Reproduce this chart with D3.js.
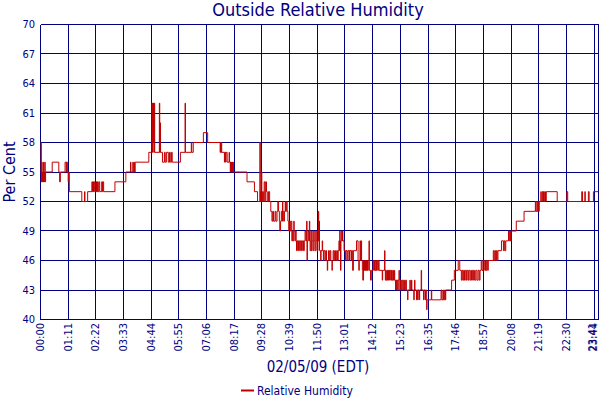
<!DOCTYPE html>
<html><head><meta charset="utf-8">
<script src="https://cdn.jsdelivr.net/npm/d3@7/dist/d3.min.js"></script>
<style>
html,body{margin:0;padding:0;background:#fff;}
svg{display:block;}
text{font-family:"DejaVu Sans Condensed","DejaVu Sans",sans-serif;fill:#000080;}
</style></head>
<body>
<svg id="chart" width="600" height="400"></svg>
<script>
// ---- data ----
const chartTitle = "Outside Relative Humidity";
const yAxisTitle = "Per Cent";
const xAxisTitle = "02/05/09 (EDT)";
const seriesName = "Relative Humidity";
const yTicks = [40,43,46,49,52,55,58,61,64,67,70];
const xTickLabels = ["00:00","01:11","02:22","03:33","04:44","05:55","07:06","08:17","09:28","10:39","11:50","13:01","14:12","15:23","16:35","17:46","18:57","20:08","21:19","22:30","23:41","23:44"];
const dayEndMinute = 1432; // last reading, right edge of the chart
// [minutes after midnight, relative humidity %]
const humidityReadings = [
[0,55],[1,58],[2,54],[3,56],[4,54],[5,55],[6,54],[7,56],[8,54],[9,55],[10,54],[11,56],[12,54],[13,55],
[30,56],[47,55],[49,54],[51,55],
[63,56],[66,55],[67,56],[69,55],[71,54],[72,55],[74,53],
[106,52],[113,53],[114,52],[121,53],
[132,54],[133,53],[134,54],[136,53],[137,54],[139,53],[142,54],[143,53],[144,54],[145,53],[146,54],[148,53],[150,54],[152,53],[157,54],[159,53],[160,54],[162,53],
[191,54],[219,55],
[231,56],[232,55],[237,56],[238,55],[240,56],[241,55],[243,56],
[278,57],
[286,62],[287,57],[288,62],[289,58],[290,62],[291,57],[292,62],[293,57],
[305,62],[306,57],[307,60],[308,57],
[313,56],[318,57],[320,56],[323,57],[328,56],[331,57],[333,56],[336,57],[338,56],
[359,57],[371,62],[372,57],[387,58],[388,57],
[392,58],[418,59],[429,58],
[461,57],[462,58],[463,57],[464,58],[465,57],
[472,56],[473,57],[475,56],[476,57],
[479,56],[484,57],[485,56],
[487,55],[488,56],[489,55],[490,56],[491,55],[492,56],[493,55],[494,56],[495,55],
[530,54],[549,53],[557,52],
[563,58],[564,52],[565,53],[566,52],[567,55],[568,52],
[570,53],[572,52],[574,54],[576,52],[578,54],[580,53],[582,52],[585,53],[588,52],
[591,51],[594,50],[596,51],[598,50],[602,51],[604,50],[607,51],[609,52],[611,51],[613,50],[614,49],[616,50],[618,51],[620,50],[621,52],[622,51],[624,50],[626,51],[628,52],[629,51],[631,52],[633,51],[635,50],[637,49],[639,50],[641,49],[643,50],
[645,48],[647,49],[648,48],[650,50],[651,49],[653,48],[655,49],[656,48],
[657,47],[659,48],[661,47],[662,48],[665,47],[667,48],[670,47],[672,48],[675,47],[677,48],
[679,49],[681,48],[683,50],[684,46],[685,48],[687,49],[689,48],[690,50],[691,48],
[692,47],[694,49],[695,47],[697,48],[699,49],[700,47],[702,48],[704,49],[705,47],[707,48],[709,49],[710,47],[712,48],
[713,51],[714,48],[715,50],[716,47],
[719,46],[720,47],[723,48],[724,47],[726,46],[727,47],
[730,46],[732,47],[734,46],[736,45],[737,46],[739,47],[741,46],[743,47],[745,46],[748,45],[749,46],[751,47],[753,46],[755,47],[757,46],[760,47],[762,46],[764,47],[766,48],[767,47],[768,49],[769,48],[770,45],[771,48],[773,49],[774,48],[775,49],[776,48],
[779,47],[783,46],[784,47],[787,46],[789,47],[792,46],[793,47],[797,46],[798,47],[801,45],[803,47],
[811,48],
[815,46],[817,45],[818,46],[820,48],[821,46],[823,48],[824,46],[826,45],[827,44],[829,46],
[830,45],[831,46],[832,45],[833,46],[834,45],[835,46],[836,45],[837,46],[838,45],[839,46],[840,45],[841,46],[843,48],[844,45],
[847,44],[849,45],
[854,46],[856,45],[857,46],[859,45],[861,46],[862,45],[864,46],[866,45],[867,46],[869,45],
[877,44],[878,45],[883,47],[884,45],
[885,44],[886,45],[887,44],[889,45],[890,44],[891,45],[893,44],[894,45],[896,44],[897,45],[899,44],[901,45],[902,44],[904,45],[906,44],[908,45],
[909,44],[911,43],[912,44],[914,43],[915,44],[917,43],[918,44],[920,45],[921,44],
[922,43],[924,44],[926,43],[928,44],[930,43],[932,44],[934,43],[937,44],[939,43],[942,42],[943,43],
[948,44],[949,43],[952,44],[953,43],[958,42],[959,43],[960,44],[961,43],[965,42],[966,43],[968,42],[969,43],[972,42],[973,43],
[977,45],[978,43],[983,42],[984,43],[987,42],[988,43],
[991,41],[992,42],[1003,43],[1004,42],
[1028,43],[1030,42],[1033,43],[1034,42],[1037,43],[1039,42],[1040,43],
[1055,44],[1062,45],[1072,46],[1076,45],
[1080,44],[1082,45],[1084,44],[1086,45],[1088,44],[1090,45],[1093,44],[1095,45],[1098,44],[1100,45],[1103,44],[1106,45],[1109,44],[1111,45],[1114,44],[1117,45],[1120,44],[1123,45],[1126,44],[1128,45],
[1131,46],[1133,45],[1136,46],[1140,45],[1142,46],[1144,45],[1146,46],[1148,45],[1149,46],
[1162,47],[1164,46],[1166,47],[1168,46],[1170,47],[1172,46],[1174,47],
[1183,48],[1188,47],[1190,48],[1192,47],[1194,48],
[1201,49],[1203,48],[1205,49],[1206,48],[1208,49],
[1221,50],[1241,51],
[1270,52],[1271,51],[1274,52],[1275,51],[1277,52],[1278,51],[1280,52],
[1284,53],[1285,52],[1288,53],[1290,52],[1291,53],[1293,52],[1295,53],[1296,52],[1298,53],
[1326,52],[1351,53],[1353,52],[1389,53],[1391,52],[1397,53],[1398,52],[1406,53],[1408,52],[1419,53],[1432,53]
];

// ---- chart ----
const NAVY = "#000080", RED = "#c00000";
const svg = d3.select("#chart");
const plotLeft = 40.5, plotRight = 598.5, plotTop = 24.5, plotBottom = 319.5;

const x = d3.scaleLinear().domain([0, dayEndMinute]).range([plotLeft, plotRight]);
const y = d3.scaleLinear().domain([yTicks[0], yTicks[yTicks.length-1]]).range([plotBottom, plotTop]);

function toMinutes(s){ const p = s.split(":"); return +p[0]*60 + +p[1]; }
const xTickMinutes = xTickLabels.map((s,i) => i === xTickLabels.length-1 ? dayEndMinute : toMinutes(s));
const crisp = v => Math.round(v - 0.5) + 0.5;

// grid
const grid = svg.append("g").attr("stroke", NAVY).attr("stroke-width", 1).attr("shape-rendering","crispEdges");
grid.selectAll("line.h").data(yTicks).join("line").attr("class","h")
  .attr("x1", plotLeft).attr("x2", plotRight)
  .attr("y1", d => crisp(y(d))).attr("y2", d => crisp(y(d)));
grid.selectAll("line.v").data(xTickMinutes).join("line").attr("class","v")
  .attr("y1", plotTop).attr("y2", plotBottom)
  .attr("x1", d => crisp(x(d))).attr("x2", d => crisp(x(d)));

// data line
svg.append("clipPath").attr("id","clip").append("rect")
  .attr("x", plotLeft).attr("y", plotTop).attr("width", plotRight-plotLeft).attr("height", plotBottom-plotTop);
const line = d3.line().x(d => x(d[0])).y(d => y(d[1])).curve(d3.curveStepAfter);
svg.append("path").datum(humidityReadings)
  .attr("clip-path","url(#clip)")
  .attr("fill","none").attr("stroke", RED).attr("stroke-width", 1)
  .attr("d", line);

// y tick labels
svg.append("g").selectAll("text").data(yTicks).join("text")
  .attr("x", 35).attr("y", d => y(d)).attr("dy", "0.35em")
  .attr("text-anchor","end").attr("font-size", 11).text(d => d);

// x tick labels (the two crowded ones at the right edge kept inside the page)
const nTicks = xTickMinutes.length;
svg.append("g").selectAll("text").data(xTickMinutes).join("text")
  .attr("transform", (d,i) => {
    let px = x(d) + 3.5;
    if (i === nTicks - 2) px = x(d) + 1.5;
    if (i === nTicks - 1) px = 597;
    return `translate(${px},323) rotate(-90)`;
  })
  .attr("text-anchor","end").attr("font-size", 11)
  .text((d,i) => xTickLabels[i]);

// titles
svg.append("text").attr("x", 318).attr("y", 16).attr("text-anchor","middle")
  .attr("font-size", 18).text(chartTitle);
svg.append("text").attr("transform", `translate(15,${(plotTop+plotBottom)/2}) rotate(-90)`)
  .attr("text-anchor","middle").attr("font-size", 16).text(yAxisTitle);
svg.append("text").attr("x", 318).attr("y", 372).attr("text-anchor","middle")
  .attr("font-size", 15).text(xAxisTitle);

// legend
svg.append("line").attr("x1", 241).attr("x2", 254).attr("y1", 390.5).attr("y2", 390.5)
  .attr("stroke", RED).attr("stroke-width", 2);
svg.append("text").attr("x", 257).attr("y", 395).attr("font-size", 12).text(seriesName);
</script>
</body></html>
